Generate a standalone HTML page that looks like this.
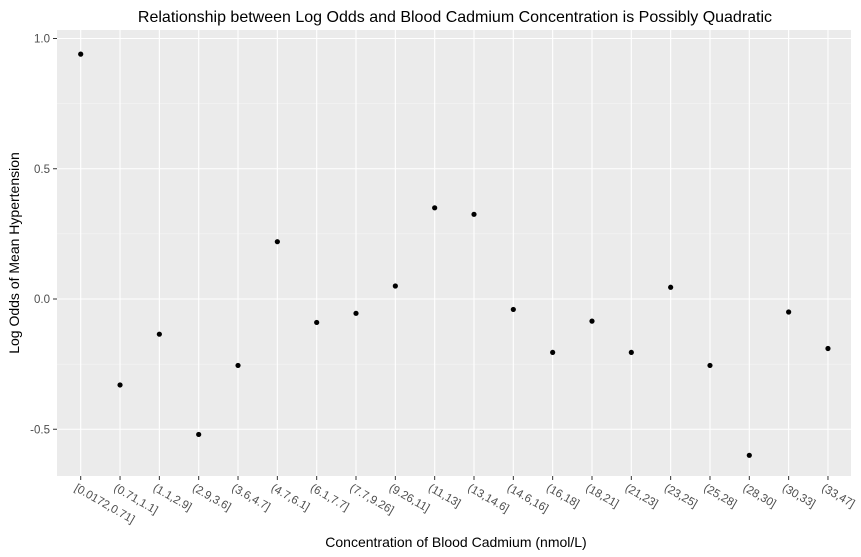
<!DOCTYPE html>
<html><head><meta charset="utf-8"><style>
body{margin:0;background:#fff;}
svg{font-family:"Liberation Sans",sans-serif;display:block}
</style></head><body>
<svg id="c" width="861" height="557">
<rect x="0" y="0" width="861" height="557" fill="#fff"/>
<rect id="panel" x="57" y="30" width="794" height="446" fill="#ebebeb"/>
<g id="grid"></g><g id="axes"></g><g id="pts"></g>
<text x="455" y="22" text-anchor="middle" font-size="16" fill="#000">Relationship between Log Odds and Blood Cadmium Concentration is Possibly Quadratic</text>
<text x="456" y="547" text-anchor="middle" font-size="14" fill="#000">Concentration of Blood Cadmium (nmol/L)</text>
<text transform="translate(19,253) rotate(-90)" text-anchor="middle" font-size="14" fill="#000">Log Odds of Mean Hypertension</text>
</svg>
<script>
const categories=["[0.0172,0.71]","(0.71,1.1]","(1.1,2.9]","(2.9,3.6]","(3.6,4.7]","(4.7,6.1]","(6.1,7.7]","(7.7,9.26]","(9.26,11]","(11,13]","(13,14.6]","(14.6,16]","(16,18]","(18,21]","(21,23]","(23,25]","(25,28]","(28,30]","(30,33]","(33,47]"];
const values=[0.94,-0.33,-0.135,-0.52,-0.255,0.22,-0.09,-0.055,0.05,0.35,0.325,-0.04,-0.205,-0.085,-0.205,0.045,-0.255,-0.60,-0.05,-0.19];
const yTicks=[-0.5,0,0.5,1.0];
const yTickLabels=["-0.5","0.0","0.5","1.0"];
const NS="http://www.w3.org/2000/svg";
const x=i=>80.7+i*39.33;
const y=v=>299-v*260.5;
function mk(t,a,p){const e=document.createElementNS(NS,t);for(const k in a)e.setAttribute(k,a[k]);p.appendChild(e);return e;}
const grid=document.getElementById('grid'),axes=document.getElementById('axes'),pts=document.getElementById('pts');
for(let k=0;k<yTicks.length-1;k++){const m=(yTicks[k]+yTicks[k+1])/2;
const l=mk('line',{x1:57,x2:851,y1:y(m),y2:y(m),stroke:'#f7f7f7','stroke-width':0.6},grid);

}
yTicks.forEach((v,k)=>{
const l=mk('line',{x1:57,x2:851,y1:y(v),y2:y(v),stroke:'#fff','stroke-width':1.1},grid);


const t=mk('line',{x1:53,x2:57,y1:y(v),y2:y(v),stroke:'#333'},axes);


const tx=mk('text',{x:50,y:y(v)+4,'text-anchor':'end','font-size':11.5,fill:'#4d4d4d'},axes);
tx.textContent=yTickLabels[k];

});
categories.forEach((c,i)=>{
const l=mk('line',{x1:x(i),x2:x(i),y1:30,y2:476,stroke:'#fff','stroke-width':1.1},grid);


const t=mk('line',{x1:x(i),x2:x(i),y1:476,y2:480,stroke:'#333'},axes);


const tx=mk('text',{transform:`translate(${x(i)-7},${490}) rotate(30)`,'font-size':11.5,fill:'#4d4d4d'},axes);
tx.textContent=c;


const p=mk('circle',{cx:x(i),cy:y(values[i]),r:2.6,fill:'#000'},pts);

});
</script>
</body></html>
